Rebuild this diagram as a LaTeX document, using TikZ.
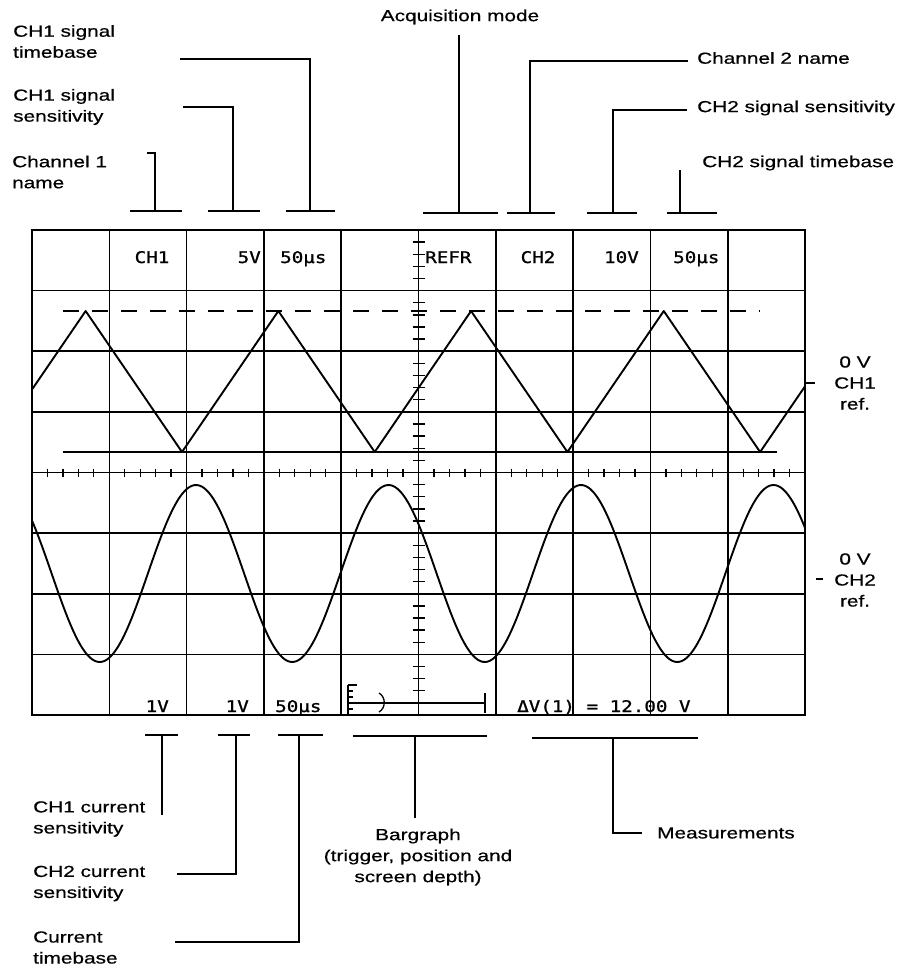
\documentclass[tikz,border=0pt]{standalone}
\usepackage{fontspec}
\setmainfont{Liberation Sans}
\newfontfamily\lblfont[FakeStretch=1.3,FakeBold=0.6]{Liberation Sans}
\newfontfamily\scrfont[FakeStretch=1.2,FakeBold=1.2]{DejaVu Sans Mono}
\begin{document}
\begin{tikzpicture}[x=1pt,y=-1pt,
  lbl/.style={font=\lblfont\fontsize{16}{21}\selectfont, inner sep=0pt},
  scr/.style={font=\scrfont\fontsize{16}{19}\selectfont, inner sep=0pt},
  callout/.style={line width=1.6pt},
  gridline/.style={line width=1.6pt},
  frame/.style={line width=2pt},
  wave/.style={line width=1.9pt, line join=round},
  tick/.style={line width=1.3pt}]
\useasboundingbox (0,0) rectangle (907,969);

% ---------- screen grid ----------
\foreach \i in {1,...,9} \draw[gridline] ({32+77.3*\i},230) -- ({32+77.3*\i},715);
\foreach \j in {1,...,7} \draw[gridline] (32,{230+60.625*\j}) -- (805,{230+60.625*\j});
\draw[frame] (32,230) rectangle (805,715);
% centre axis minor ticks
\foreach \k in {1,...,39} \draw[tick] (412.5,{230+12.125*\k}) -- (424.5,{230+12.125*\k});
\foreach \k in {1,...,49} \draw[tick] ({32+15.46*\k},468.5) -- ({32+15.46*\k},476.5);

% ---------- CH1 triangle ----------
\draw[wave,dash pattern=on 16pt off 13pt] (63,311) -- (760,311);
\draw[gridline] (63,452) -- (777,452);
\draw[wave] (32,389.5) -- (85.65,311) -- (182,452) -- (278.35,311) -- (374.7,452)
  -- (471.05,311) -- (567.4,452) -- (663.75,311) -- (760.1,452) -- (805,386.3);

% ---------- CH2 sine ----------
\draw[wave] plot[domain=32:805, samples=320, smooth] (\x, {573.5 - 88.5*cos(1.87013*(\x-196))});

% ---------- bargraph ----------
\draw[gridline] (348,685) -- (348,714);
\draw[tick] (348,685) -- (357,685);
\draw[tick] (348,691) -- (353,691);
\draw[tick] (348,697) -- (353,697);
\draw[tick] (348,709) -- (353,709);
\draw[tick] (348,703) -- (485,703);
\draw[tick] (379,693) .. controls (386,697) and (386,708) .. (379,712);
\draw[gridline] (485,693) -- (485,713);

% ---------- screen texts ----------
\node[scr,anchor=base]      (sCHa) at (152,263) {CH1};
\node[scr,anchor=base east] (sVa)  at (261,263) {5V};
\node[scr,anchor=base west] (sTa)  at (280,263) {50μs};
\node[scr,anchor=base west] (sRef) at (425,263) {REFR};
\node[scr,anchor=base]      (sCHb) at (538,263) {CH2};
\node[scr,anchor=base east] (sVb)  at (639,263) {10V};
\node[scr,anchor=base west] (sTb)  at (673,263) {50μs};
\node[scr,anchor=base east] (sIa)  at (169,712) {1V};
\node[scr,anchor=base east] (sIb)  at (249,712) {1V};
\node[scr,anchor=base west] (sTc)  at (275,712) {50μs};
\node[scr,anchor=base west] (sMeas) at (517,712) {ΔV(1) = 12.00 V};

% ---------- right reference marks ----------
\coordinate (r1a) at (806,383); \coordinate (r1b) at (815,383);
\coordinate (r2a) at (816,579); \coordinate (r2b) at (823,579);
\draw[callout] (r1a) -- (r1b);
\draw[callout] (r2a) -- (r2b);
\node[lbl,align=center] (ref1) at (855,383) {0 V\\CH1\\ref.};
\node[lbl,align=center] (ref2) at (855,580) {0 V\\CH2\\ref.};

% ---------- top labels ----------
\node[lbl,align=left,anchor=west] (lTa) at (13,41.5) {CH1 signal\\timebase};
\node[lbl,align=left,anchor=west] (lSa) at (13,107) {CH1 signal\\sensitivity};
\node[lbl,align=left,anchor=west] (lNa) at (12,172) {Channel 1\\name};
\node[lbl] (lAcq) at (460,17) {Acquisition mode};
\node[lbl,anchor=west] (lNb) at (697,58) {Channel 2 name};
\node[lbl,anchor=west] (lSb) at (697,108) {CH2 signal sensitivity};
\node[lbl,anchor=west] (lTb) at (702,163) {CH2 signal timebase};

% top callouts
\coordinate (t1a) at (130,211); \coordinate (t1b) at (182,211); \coordinate (t1s) at (155,211); \coordinate (t1e) at (147,153);
\coordinate (t2a) at (208,211); \coordinate (t2b) at (260,211); \coordinate (t2s) at (233,211); \coordinate (t2e) at (183,107);
\coordinate (t3a) at (286,211); \coordinate (t3b) at (335,211); \coordinate (t3s) at (310,211); \coordinate (t3e) at (180,59);
\coordinate (t4a) at (423,213); \coordinate (t4b) at (498,213); \coordinate (t4s) at (459,213); \coordinate (t4e) at (459,35);
\coordinate (t5a) at (507,213); \coordinate (t5b) at (555,213); \coordinate (t5s) at (530,213); \coordinate (t5e) at (688,61);
\coordinate (t6a) at (587,213); \coordinate (t6b) at (637,213); \coordinate (t6s) at (613,213); \coordinate (t6e) at (687,110);
\coordinate (t7a) at (667,213); \coordinate (t7b) at (717,213); \coordinate (t7s) at (680,213); \coordinate (t7e) at (680,170);
\foreach \n in {1,...,7} \draw[callout] (t\n a) -- (t\n b);
\draw[callout] (t1s) |- (t1e);
\draw[callout] (t2s) |- (t2e);
\draw[callout] (t3s) |- (t3e);
\draw[callout] (t4s) -- (t4e);
\draw[callout] (t5s) |- (t5e);
\draw[callout] (t6s) |- (t6e);
\draw[callout] (t7s) -- (t7e);

% ---------- bottom labels ----------
\node[lbl,align=left,anchor=west] (lIa) at (33,819) {CH1 current\\sensitivity};
\node[lbl,align=left,anchor=west] (lIb) at (33,883.5) {CH2 current\\sensitivity};
\node[lbl,align=left,anchor=west] (lTc) at (33,947.5) {Current\\timebase};
\node[lbl,align=center] (lBar) at (418,857) {Bargraph\\(trigger, position and\\screen depth)};
\node[lbl,anchor=west] (lMeas) at (657,833) {Measurements};

% bottom callouts
\coordinate (b1a) at (145,735); \coordinate (b1b) at (178,735); \coordinate (b1s) at (162,735); \coordinate (b1e) at (162,815);
\coordinate (b2a) at (218,735); \coordinate (b2b) at (250,735); \coordinate (b2s) at (236,735); \coordinate (b2e) at (177,874);
\coordinate (b3a) at (278,735); \coordinate (b3b) at (323,735); \coordinate (b3s) at (299,735); \coordinate (b3e) at (175,942);
\coordinate (b4a) at (353,736); \coordinate (b4b) at (487,736); \coordinate (b4s) at (415,736); \coordinate (b4e) at (415,818);
\coordinate (b5a) at (532,738); \coordinate (b5b) at (698,738); \coordinate (b5s) at (613,738); \coordinate (b5e) at (642,833);
\foreach \n in {1,...,5} \draw[callout] (b\n a) -- (b\n b);
\draw[callout] (b1s) -- (b1e);
\draw[callout] (b2s) |- (b2e);
\draw[callout] (b3s) |- (b3e);
\draw[callout] (b4s) -- (b4e);
\draw[callout] (b5s) |- (b5e);
\end{tikzpicture}
\end{document}
